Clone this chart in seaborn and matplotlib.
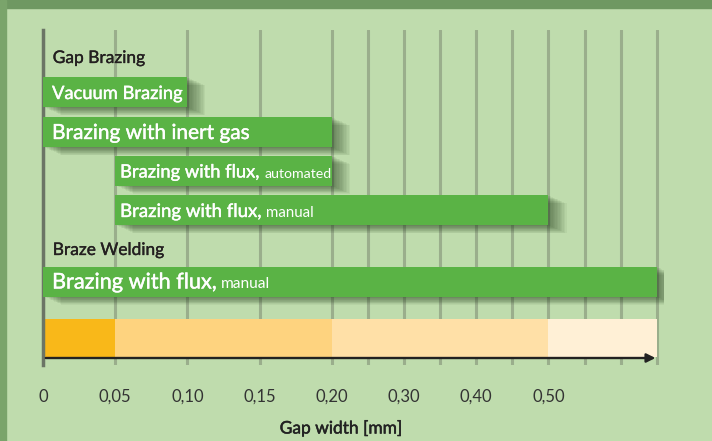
import numpy as np
import pandas as pd
import seaborn as sns
import matplotlib
matplotlib.use("Agg")
import matplotlib.pyplot as plt
from matplotlib import patheffects as pe
from matplotlib.patches import Rectangle

# ---------------- data ----------------
group_names = ["Gap Brazing", "Braze Welding"]
methods = ["Vacuum Brazing", "Brazing with inert gas", "Brazing with flux,",
           "Brazing with flux,", "Brazing with flux,"]
method_notes = ["", "", "automated", "manual", "manual"]
gap_min = [0.0, 0.0, 0.05, 0.05, 0.0]
gap_max = [0.10, 0.20, 0.20, 0.50, 0.65]
band_edges = [0.0, 0.05, 0.20, 0.50, 0.65]
tick_values = [0.0, 0.05, 0.10, 0.15, 0.20, 0.30, 0.40, 0.50]
tick_labels = ["0", "0,05", "0,10", "0,15", "0,20", "0,30", "0,40", "0,50"]
minor_values = [0.25, 0.35, 0.45, 0.55, 0.60, 0.65]
x_label = "Gap width [mm]"

# ---------------- layout / style ----------------
bar_rows = [62, 102, 140.5, 180, 251.5]          # vertical centres (px from axes top)
label_size = [13.2, 15.0, 13.2, 13.4, 15.6]
note_size = [10.2, 10.2, 10.2, 10.8, 11.2]
label_pad = [6.5, 6.5, 3.5, 3.5, 6.5]
header_rows = [33, 225]
band_row = 308
arrow_row = 328
band_colors = ["#f9b819", "#fed37f", "#ffe0a7", "#fff0d6"]
bar_color = "#5ab345"
bg = "#bfdcad"


def fwd(x):
    x = np.asarray(x, dtype=float)
    return np.where(x <= 0.2, x / 0.05, 4 + (x - 0.2) / 0.1)


def inv(p):
    p = np.asarray(p, dtype=float)
    return np.where(p <= 4, p * 0.05, 0.2 + (p - 4) * 0.1)


def thick(color, w=0.25):
    return [pe.withStroke(linewidth=w, foreground=color)]


sns.set_theme(style="white")
plt.rcParams["font.family"] = ["Lato", "DejaVu Sans"]

fig = plt.figure(figsize=(7.12, 4.41), dpi=100, facecolor=bg)
fig.patches.append(Rectangle((0, 1 - 8 / 441), 1, 8 / 441, transform=fig.transFigure,
                             color="#6f9862", zorder=0))
fig.patches.append(Rectangle((0, 0), 6 / 712, 1, transform=fig.transFigure,
                             color="#7aa46b", zorder=0))

ax = fig.add_axes([43 / 712, 76 / 441, 621 / 712, 335 / 441])
ax.set_facecolor("none")
ax.set_xscale("function", functions=(fwd, inv))
ax.set_xlim(0, 0.66)
ax.set_ylim(335, 0)

ax.set_xticks(tick_values)
ax.set_xticklabels(tick_labels)
ax.set_xticks(minor_values, minor=True)
ax.set_yticks([])
ax.grid(axis="x", which="both", color="#9aae8c", lw=2.2, zorder=0)
ax.set_axisbelow(True)
for s in ["top", "right", "bottom"]:
    ax.spines[s].set_visible(False)
ax.spines["left"].set_color("#6b7565")
ax.spines["left"].set_linewidth(2.5)
ax.tick_params(axis="x", which="both", length=0, pad=17, labelsize=12,
               labelcolor="#333333")
ax.set_xlabel(x_label, fontsize=12.5, color="#222222")
ax.xaxis.label.set_path_effects(thick("#222222", 0.35))
ax.xaxis.label.set_va("center")
ax.xaxis.set_label_coords(0.48, -63 / 335)

shadow = [pe.SimplePatchShadow(offset=(o, -o * 0.45), shadow_rgbFace="#2a4422", alpha=0.06)
          for o in np.arange(1, 14, 1.0)] + [pe.Normal()]

# colour band + arrow
ax.barh(y=[band_row] * 4, width=np.diff(band_edges), left=band_edges[:-1], height=38,
        color=band_colors, edgecolor="none", linewidth=0, zorder=2)
ax.annotate("", xy=(0.652, arrow_row), xytext=(0, arrow_row),
            arrowprops=dict(arrowstyle="-|>", color="#222222", lw=1.7, mutation_scale=13),
            zorder=4)

# bars
for i in range(len(methods)):
    ax.barh(y=bar_rows[i], width=gap_max[i] - gap_min[i], left=gap_min[i], height=30,
            color=bar_color, edgecolor="none", linewidth=0, zorder=3, path_effects=shadow)

main_texts = []
for i in range(len(methods)):
    t = ax.annotate(methods[i], xy=(gap_min[i], bar_rows[i] + 7), xytext=(label_pad[i], 0),
                    textcoords="offset points", va="baseline", ha="left", color="white",
                    fontsize=label_size[i], zorder=5, path_effects=thick("white", 0.3))
    main_texts.append(t)

for g, yb in zip(group_names, header_rows):
    ax.annotate(g, xy=(0, yb), xytext=(7, 0), textcoords="offset points", va="baseline",
                ha="left", color="#231f20", fontsize=12.5, path_effects=thick("#231f20", 0.25))

fig.canvas.draw()
r = fig.canvas.get_renderer()
for i in range(len(methods)):
    if method_notes[i]:
        w = main_texts[i].get_window_extent(r).width * 72 / fig.dpi
        ax.annotate(method_notes[i], xy=(gap_min[i], bar_rows[i] + 7),
                    xytext=(label_pad[i] + w + 3, 0), textcoords="offset points",
                    va="baseline", ha="left", color="white", fontsize=note_size[i], zorder=5)

fig.savefig("out.png", dpi=100, facecolor=bg)
